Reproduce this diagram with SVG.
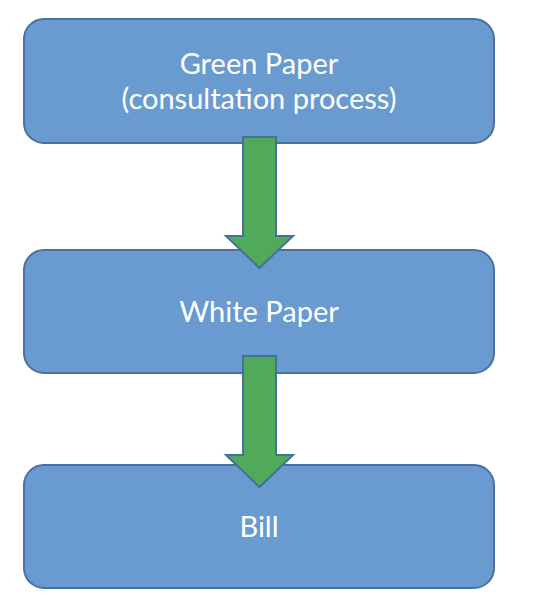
<svg xmlns="http://www.w3.org/2000/svg" width="534" height="606" viewBox="0 0 534 606">
<style>
.box{fill:#699BD0;stroke:#4B70A0;stroke-width:2}
.arr{fill:#50AA5A;stroke:#44709E;stroke-width:2;stroke-linejoin:miter}
.t{font-family:Lato,"Open Sans",sans-serif;font-size:29px;fill:#fff;text-anchor:middle}
</style>
<rect width="534" height="606" fill="#fff"/>
<g id="node-green">
<rect class="box" x="24" y="19" width="470" height="124" rx="20"/>
<text class="t" x="259" y="74">Green Paper</text>
<text class="t" x="259" y="109">(consultation process)</text>
</g>
<g id="node-white">
<rect class="box" x="24" y="250" width="470" height="123" rx="20"/>
<text class="t" x="259" y="322">White Paper</text>
</g>
<g id="node-bill">
<rect class="box" x="24" y="465" width="470" height="123" rx="20"/>
<text class="t" x="259" y="537">Bill</text>
</g>
<g id="connectors">
<polygon class="arr" points="243,137 276,137 276,236 293,236 259.5,268 226,236 243,236"/>
<polygon class="arr" points="243,356 276,356 276,455 293,455 259.5,487 226,455 243,455"/>
</g>
</svg>
